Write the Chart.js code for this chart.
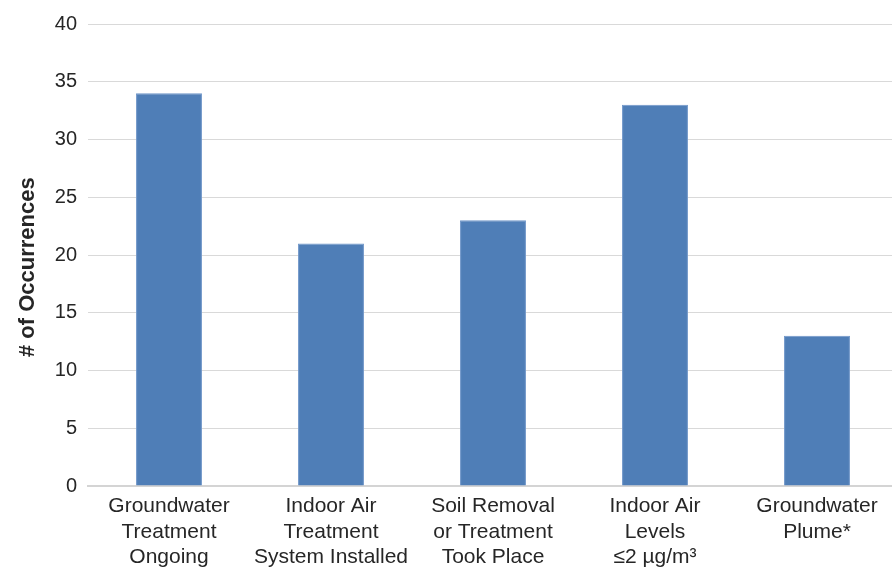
<!DOCTYPE html>
<html>
<head>
<meta charset="utf-8">
<script src="https://cdn.jsdelivr.net/npm/chart.js@4/dist/chart.umd.min.js"></script>
<style>
  html, body { margin: 0; padding: 0; background: #fff; overflow: hidden; width: 892px; height: 568px; }
  /* plot runs slightly past the right edge of the page */
  #wrap { width: 898px; height: 568px; position: relative; }
</style>
</head>
<body>
<div id="wrap"><canvas id="c"></canvas></div>
<script>
// Outcome categories (multi-line labels under each bar)
const categories = [
  ['Groundwater', 'Treatment', 'Ongoing'],
  ['Indoor Air', 'Treatment', 'System Installed'],
  ['Soil Removal', 'or Treatment', 'Took Place'],
  ['Indoor Air', 'Levels', '≤2 µg/m³'],
  ['Groundwater', 'Plume*']
];
// Number of occurrences per category
const occurrences = [34, 21, 23, 33, 13];
// Y axis range
const yMin = 0, yMax = 40, yStep = 5;

const textColor = '#262626';
const family = '"Liberation Sans", Arial, sans-serif';

new Chart(document.getElementById('c'), {
  type: 'bar',
  data: {
    labels: categories,
    datasets: [{
      label: '# of Occurrences',
      data: occurrences,
      backgroundColor: '#4F7EB7',
      borderColor: '#6F96C9',
      borderWidth: 1,
      categoryPercentage: 1.0,
      barPercentage: 0.407
    }]
  },
  options: {
    responsive: true,
    maintainAspectRatio: false,
    animation: false,
    layout: { padding: { top: 24, right: 0, bottom: 0, left: 0 } },
    plugins: { legend: { display: false }, tooltip: { enabled: false } },
    scales: {
      x: {
        grid: { display: false, drawTicks: false },
        border: { display: true, color: '#D4D4D4', width: 2 },
        ticks: {
          color: textColor,
          font: { family: family, size: 21, lineHeight: 1.2 },
          padding: 8, maxRotation: 0, autoSkip: false
        },
        afterFit: s => { s.height = 82; }
      },
      y: {
        min: yMin, max: yMax,
        grid: { color: '#D9D9D9', lineWidth: 1, drawTicks: false },
        border: { display: false },
        ticks: { stepSize: yStep, color: textColor, font: { family: family, size: 20 }, padding: 11 },
        title: {
          display: true,
          // trailing spaces nudge the rotated title toward the axis bottom
          text: '# of Occurrences\u00A0\u00A0\u00A0\u00A0',
          color: textColor,
          font: { family: family, size: 22, weight: 'bold' },
          padding: { top: 15, bottom: 0 }
        },
        afterFit: s => { s.width = 88; }
      }
    }
  }
});
</script>
</body>
</html>
